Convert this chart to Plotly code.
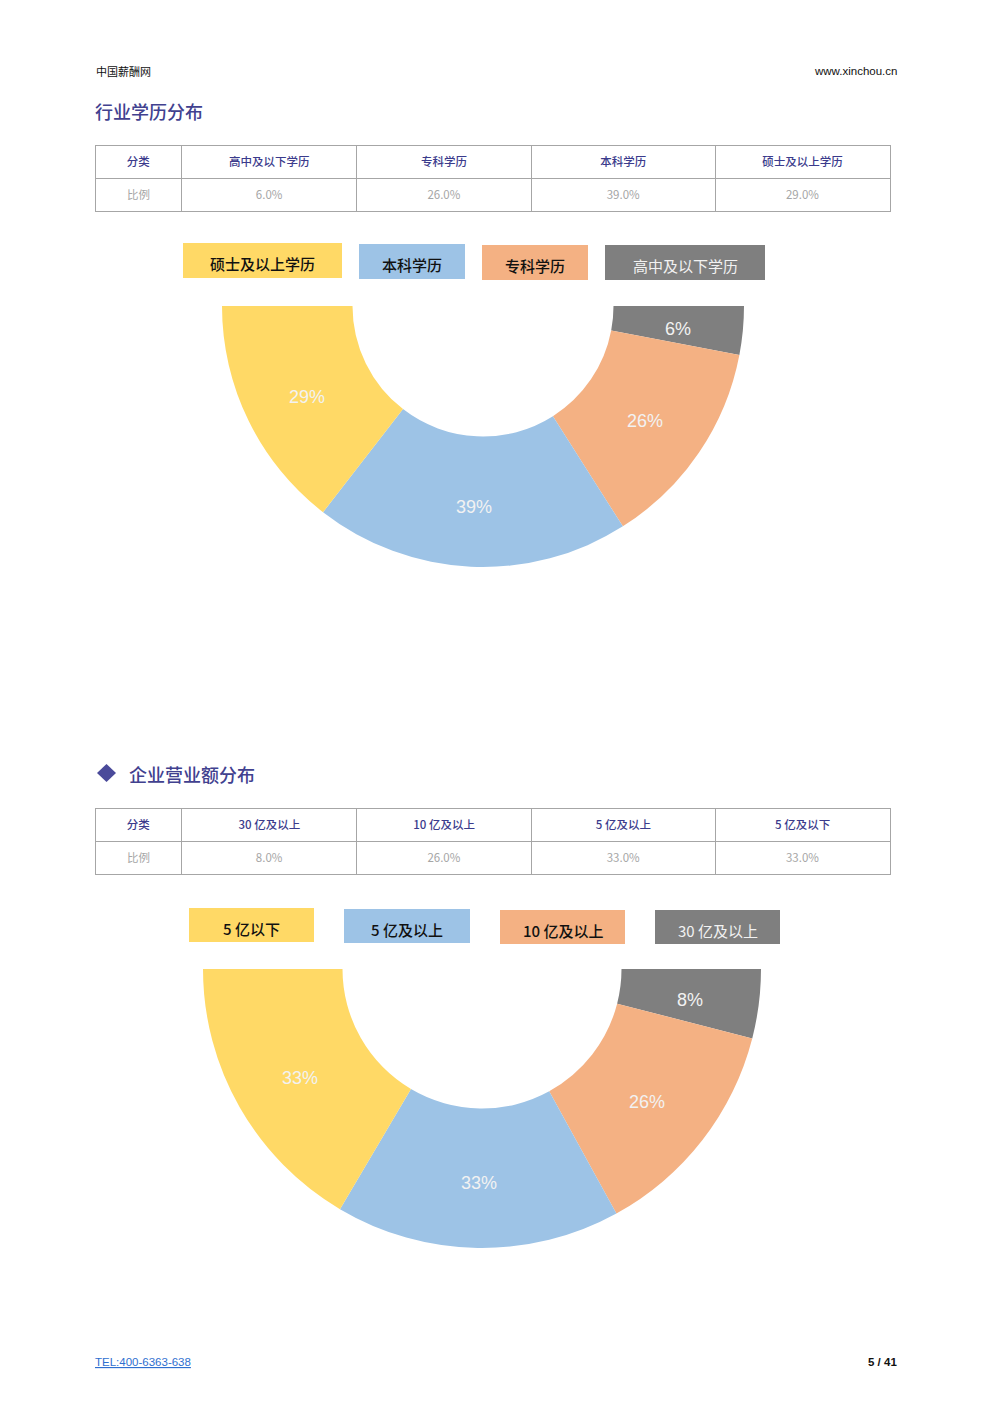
import math
import plotly.graph_objects as go

W, H = 993, 1403

# ---------------- data ----------------
edu_categories = ["高中及以下学历", "专科学历", "本科学历", "硕士及以上学历"]
edu_values = [6.0, 26.0, 39.0, 29.0]

rev_categories = ["30 亿及以上", "10 亿及以上", "5 亿及以上", "5 亿及以下"]
rev_values = [8.0, 26.0, 33.0, 33.0]
rev_legend_labels = ["5 亿以下", "5 亿及以上", "10 亿及以上", "30 亿及以上"]

row_header = "分类"
row_label = "比例"

title_1 = "行业学历分布"
title_2 = "企业营业额分布"
site_name = "中国薪酬网"
site_url = "www.xinchou.cn"
footer_tel = "TEL:400-6363-638"
page_no = "5 / 41"

# ---------------- styles ----------------
CJK = "Noto Sans CJK SC"
LAT = "Liberation Sans"
# colours in table order: lowest category first (gray, orange, blue, yellow)
slice_colors = ["#7F7F7F", "#F4B183", "#9DC3E6", "#FFD966"]
TITLE_C = "#41418F"
HEAD_C = "#3B3B8C"
LINE_C = "#A6A6A6"
BODY_C = "#A6A6A6"
HOLE = 0.5
TXT = 11.5  # table text size


def fx(x):
    return x / W


def fy(y):
    return 1 - y / H


def lowered(s):
    # tiny empty first line nudges the table text a few px down in its cell
    return f"<br><span style='font-size:{TXT}px'>{s}</span>"


fig = go.Figure()
annotations = []
shapes = []


def add_table(cats, vals, y_top):
    fig.add_trace(go.Table(
        domain=dict(x=[fx(95), fx(891)], y=[fy(y_top + 68), fy(y_top)]),
        columnwidth=[87, 175, 175, 184, 175],
        header=dict(
            values=[lowered(c) for c in [row_header] + cats], height=33,
            align="center",
            font=dict(family=CJK, size=3, color=HEAD_C, weight=500),
            fill_color="white", line=dict(color=LINE_C, width=1)),
        cells=dict(
            values=[[lowered(row_label)]] + [[lowered(f"{v:.1f}%")] for v in vals],
            height=33, align="center",
            font=dict(family=CJK, size=3, color=BODY_C, weight=400),
            fill_color="white", line=dict(color=LINE_C, width=1)),
    ))


def add_half_donut(vals, cx, cy, r):
    # clockwise from 3 o'clock through 6 o'clock to 9 o'clock;
    # an invisible slice of equal total fills the upper half
    total = sum(vals)
    fig.add_trace(go.Pie(
        values=vals + [total],
        textinfo="none",
        sort=False, direction="clockwise", rotation=90, hole=HOLE,
        marker=dict(colors=slice_colors + ["rgba(0,0,0,0)"], line=dict(width=0)),
        domain=dict(x=[fx(cx - r), fx(cx + r)], y=[fy(cy + r), fy(cy - r)]),
        showlegend=False, hoverinfo="skip",
    ))
    # percentage labels at the middle of each ring segment
    rm = r * (1 + HOLE) / 2
    cum = 0.0
    for v in vals:
        theta = math.pi * (cum + v / 2) / total
        cum += v
        annotations.append(dict(
            text=f"{v:.0f}%", xref="x", yref="y",
            x=cx + rm * math.cos(theta), y=cy + rm * math.sin(theta),
            xanchor="center", yanchor="middle", yshift=-5, showarrow=False,
            font=dict(family=LAT, size=18, color="#F2F2F2"),
        ))


def add_legend(labels, boxes):
    # legend runs from the largest (yellow) category to the smallest (gray)
    leg_colors = slice_colors[::-1]
    for i, (lab, (x0, x1, y0, y1)) in enumerate(zip(labels, boxes)):
        dark = i == len(labels) - 1
        shapes.append(dict(
            type="rect", xref="paper", yref="paper",
            x0=fx(x0), x1=fx(x1), y0=fy(y1), y1=fy(y0),
            fillcolor=leg_colors[i], line=dict(width=0), layer="below",
        ))
        annotations.append(dict(
            text=lab, xref="paper", yref="paper",
            x=fx((x0 + x1) / 2), y=fy((y0 + y1) / 2),
            xanchor="center", yanchor="middle", yshift=-3, showarrow=False,
            font=dict(family=CJK, size=15,
                      color="#F2F2F2" if dark else "#111111",
                      weight=400 if dark else 500),
        ))


def add_text(txt, x, y, size, color, anchor="left", family=CJK, weight=400):
    annotations.append(dict(
        text=txt, xref="paper", yref="paper", x=fx(x), y=fy(y),
        xanchor=anchor, yanchor="middle", showarrow=False,
        font=dict(family=family, size=size, color=color, weight=weight),
    ))


# ---- section 1 ----
add_table(edu_categories, edu_values, 145)
add_half_donut(edu_values, 483, 306, 261)
add_legend(edu_categories[::-1], [(183, 342, 243, 278), (359, 465, 244, 279),
                                   (482, 588, 245, 280), (605, 765, 245, 280)])

# ---- section 2 ----
add_table(rev_categories, rev_values, 808)
add_half_donut(rev_values, 482, 969, 279)
add_legend(rev_legend_labels, [(189, 314, 908, 942), (344, 470, 909, 943),
                               (500, 625, 910, 944), (655, 780, 910, 944)])

# ---- page texts ----
add_text(site_name, 94, 71, 11, "#111111")
add_text(site_url, 899, 71, 11.5, "#111111", anchor="right", family=LAT)
add_text(title_1, 93, 111, 18, TITLE_C, weight=500)
add_text(title_2, 127, 774, 18, TITLE_C, weight=500)
add_text(f"<u>{footer_tel}</u>", 93, 1362, 11.5, "#2F6FD0", family=LAT)
add_text(f"<b>{page_no}</b>", 899, 1362, 11.5, "#111111", anchor="right", family=LAT)

# diamond bullet
shapes.append(dict(
    type="path", xref="paper", yref="paper",
    path=(f"M {fx(106.5)},{fy(764)} L {fx(116)},{fy(773)} "
          f"L {fx(106.5)},{fy(782)} L {fx(97)},{fy(773)} Z"),
    fillcolor="#4A4A9A", line=dict(width=0),
))

fig.update_layout(
    width=W, height=H, autosize=False,
    margin=dict(l=0, r=0, t=0, b=0),
    paper_bgcolor="white", plot_bgcolor="rgba(0,0,0,0)",
    xaxis=dict(range=[0, W], domain=[0, 1], visible=False, fixedrange=True),
    yaxis=dict(range=[H, 0], domain=[0, 1], visible=False, fixedrange=True),
    annotations=annotations, shapes=shapes,
    font=dict(family=CJK),
)

fig.write_html("out.html", config={"displayModeBar": False},
               post_script="document.body.style.margin='0';")
